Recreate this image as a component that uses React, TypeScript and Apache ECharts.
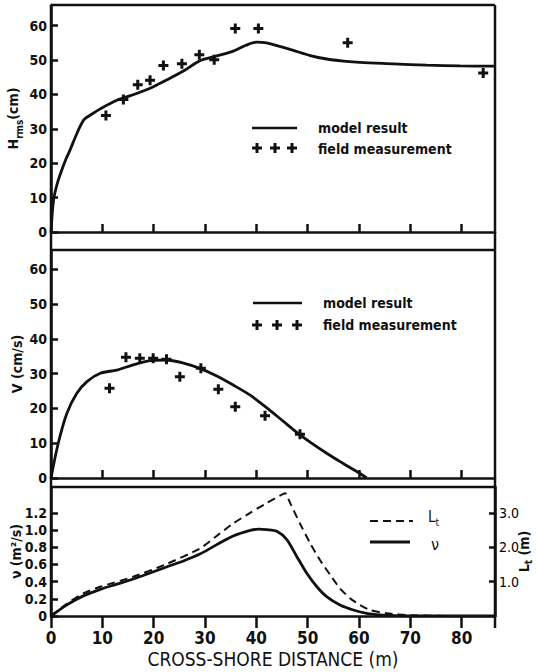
import React, { useEffect, useRef } from "react";
import * as echarts from "echarts";

// ---- Data ----
const xTicks = [0, 10, 20, 30, 40, 50, 60, 70, 80];
const hTicks = [0, 10, 20, 30, 40, 50, 60];
const vTicks = [0, 10, 20, 30, 40, 50, 60];
const nuTicks = [0, 0.2, 0.4, 0.6, 0.8, 1.0, 1.2];
const ltTicks = [1, 2, 3];

const hrmsModelX = [0, 0.5, 1.2, 2.1, 3, 3.7, 5, 6.4, 8, 9.6, 12.8, 16, 19.3, 22.5, 25.8, 29, 32.3, 35.5, 38, 40, 42, 44, 47.2, 50.5, 53.7, 57, 60.2, 66.7, 73.2, 79.7, 86.5];
const hrmsModelY = [0, 9.3, 14, 18, 21.5, 23.8, 28.5, 32.6, 34.3, 35.8, 38.3, 39.9, 41.8, 44.2, 46.8, 49.8, 51.2, 52.6, 54.3, 55.2, 55.0, 54.2, 52.8, 51.3, 50.3, 49.7, 49.3, 48.9, 48.5, 48.3, 48.2];
const hrmsFieldX = [10.7, 14.1, 16.9, 19.3, 21.9, 25.5, 28.9, 31.8, 35.9, 40.4, 57.8, 84.2];
const hrmsFieldY = [33.9, 38.5, 42.8, 44.1, 48.4, 48.9, 51.5, 50.1, 59.2, 59.2, 55.0, 46.2];

const vModelX = [0, 1.4, 3.1, 5, 7, 9.6, 12.8, 16, 19.3, 22.5, 25.8, 29, 32.3, 35.5, 38.8, 42, 45, 48.5, 53.7, 57, 60.2, 61.5];
const vModelY = [0, 9.9, 18.6, 24.3, 27.7, 30.1, 31.0, 32.5, 33.7, 33.9, 33.0, 31.5, 29.3, 26.7, 23.8, 20.2, 16.6, 12.4, 7.1, 4.1, 1.3, 0];
const vFieldX = [11.4, 14.6, 17.3, 19.9, 22.5, 25.1, 29.2, 32.6, 35.9, 41.7, 48.5];
const vFieldY = [25.8, 34.7, 34.4, 34.4, 34.1, 29.1, 31.5, 25.5, 20.5, 17.9, 12.6];

const nuX = [0, 3.1, 6.3, 9.6, 12.8, 16, 19.3, 22.5, 25.8, 29, 32.3, 35.5, 38.8, 40.4, 42, 44, 45.9, 47.9, 49.8, 51.8, 53.7, 56.3, 58.9, 61.5, 64.1, 67, 72, 80, 86.5];
const nuY = [0, 0.13, 0.234, 0.31, 0.37, 0.43, 0.5, 0.57, 0.64, 0.72, 0.83, 0.93, 0.995, 1.01, 1.005, 0.985, 0.89, 0.69, 0.5, 0.34, 0.225, 0.128, 0.07, 0.03, 0.012, 0.005, 0.002, 0, 0];

const ltX = [0, 3, 6.3, 9.6, 16, 22.5, 29, 32.3, 35.5, 38.8, 42, 44.6, 45.6, 46.6, 48.5, 50.5, 52.4, 54.4, 56.3, 58.3, 60.2, 62.2, 65.4, 70, 80, 86.5];
const ltY = [0, 0.35, 0.66, 0.85, 1.14, 1.51, 1.96, 2.33, 2.69, 3.0, 3.28, 3.5, 3.57, 3.28, 2.69, 2.11, 1.63, 1.19, 0.8, 0.51, 0.32, 0.17, 0.08, 0.02, 0, 0];

const zip = (xs: number[], ys: number[]) => xs.map((x, i) => [x, ys[i]]);

const INK = "#111";
const FONT_B = '"DejaVu Sans Condensed", "DejaVu Sans", sans-serif';
const FONT_N = '"Liberation Sans Narrow", "DejaVu Sans Condensed", sans-serif';
const PLUS = "path://M3.5,0h3v10h-3z M0,3.5h10v3h-10z";

const L = 51, R = 495;

function plusGraphic(cx: number, cy: number) {
  return [
    { type: "rect", shape: { x: cx - 5, y: cy - 1.5, width: 10, height: 3 }, style: { fill: INK } },
    { type: "rect", shape: { x: cx - 1.5, y: cy - 5, width: 3, height: 10 }, style: { fill: INK } },
  ];
}
function hline(x1: number, x2: number, y: number, w = 2.5, dash?: number[]) {
  return { type: "line", shape: { x1, y1: y, x2, y2: y }, style: { stroke: INK, lineWidth: w, lineDash: dash } };
}
function vline(x: number, y1: number, y2: number) {
  return { type: "line", shape: { x1: x, y1, x2: x, y2 }, style: { stroke: INK, lineWidth: 2.5 } };
}
function txt(x: number, y: number, text: string, extra: any = {}) {
  return {
    type: "text",
    x,
    y,
    style: { text, fill: INK, font: `bold 14px ${FONT_B}`, verticalAlign: "middle", align: "left", ...extra },
  };
}

const axisLineStyle = { show: true, lineStyle: { color: INK, width: 2.5 } };

function xAxisBase(grid: number) {
  return {
    type: "value",
    gridIndex: grid,
    min: 0,
    max: 86.5,
    axisLine: { ...axisLineStyle, onZero: false },
    splitLine: { show: false },
    axisTick: { show: true, inside: true, length: 8, lineStyle: { color: INK, width: 2.5 }, customValues: xTicks.slice(1) },
    axisLabel: { show: false },
  };
}
function yAxisLeft(grid: number, max: number, ticks: number[], name: any, rich: any, gap: number, fmt?: (v: number) => string) {
  return {
    type: "value",
    gridIndex: grid,
    min: 0,
    max,
    axisLine: { ...axisLineStyle, onZero: false },
    splitLine: { show: false },
    axisTick: { show: true, inside: true, length: 7, lineStyle: { color: INK, width: 2.5 }, customValues: ticks },
    axisLabel: {
      customValues: ticks,
      margin: 4,
      color: INK,
      fontFamily: FONT_B,
      fontWeight: "bold",
      fontSize: 14,
      formatter: fmt || ((v: number) => String(v)),
    },
    name,
    nameLocation: "middle",
    nameRotate: 90,
    nameGap: gap,
    nameMoveOverlap: false,
    nameTextStyle: { color: INK, fontFamily: FONT_B, fontWeight: "bold", fontSize: 14, rich },
  };
}

export default function App() {
  const ref = useRef<HTMLDivElement>(null);
  useEffect(() => {
    document.body.style.margin = "0";
    if (!ref.current) return;
    const chart = echarts.init(ref.current, null, { renderer: "svg" });
    const richMain = { color: INK, fontFamily: FONT_B, fontWeight: "bold", fontSize: 14, lineHeight: 16, verticalAlign: "top" };
    const richSub = { color: INK, fontFamily: FONT_B, fontWeight: "bold", fontSize: 10, lineHeight: 26, verticalAlign: "middle" };
    const richSubR = { ...richSub, lineHeight: 22 };

    const option: any = {
      animation: false,
      backgroundColor: "#fff",
      grid: [
        { left: L, top: 5, width: R - L, height: 227, outerBoundsMode: "none", containLabel: false },
        { left: L, top: 250, width: R - L, height: 228, outerBoundsMode: "none", containLabel: false },
        { left: L, top: 487, width: R - L, height: 129, outerBoundsMode: "none", containLabel: false },
      ],
      xAxis: [
        xAxisBase(0),
        xAxisBase(1),
        {
          ...xAxisBase(2),
          axisTick: { show: true, inside: false, length: 12, lineStyle: { color: INK, width: 2.5 }, customValues: xTicks },
          axisLabel: {
            show: true,
            customValues: xTicks,
            margin: 13,
            color: INK,
            fontFamily: FONT_N,
            fontWeight: "bold",
            fontSize: 17,
          },
          name: "CROSS-SHORE DISTANCE (m)",
          nameLocation: "middle",
          nameGap: 33,
          nameMoveOverlap: false,
          nameTextStyle: { color: INK, fontFamily: FONT_N, fontSize: 19 },
        },
      ],
      yAxis: [
        yAxisLeft(0, 66, hTicks, "{a|H}{s|rms}{a|(cm)}", { a: richMain, s: richSub }, 19),
        yAxisLeft(1, 65.5, vTicks, "V (cm/s)", undefined, 27),
        yAxisLeft(2, 1.5, nuTicks, "ν (m²/s)", undefined, 28, (v: number) => (v === 0 ? "0" : v.toFixed(1))),
        {
          type: "value",
          gridIndex: 2,
          position: "right",
          min: 0,
          max: 3.75,
          axisLine: { ...axisLineStyle, onZero: false },
          splitLine: { show: false },
          axisTick: { show: true, inside: true, length: 6, lineStyle: { color: INK, width: 2.5 }, customValues: ltTicks },
          axisLabel: {
            customValues: ltTicks,
            margin: 4,
            color: "#000",
            fontFamily: FONT_B,
            fontSize: 14,
            formatter: (v: number) => v.toFixed(1),
          },
          name: "{a|L}{s|t}{a| (m)}",
          nameLocation: "middle",
          nameRotate: 90,
          nameGap: 22,
          nameMoveOverlap: false,
          nameTextStyle: { color: INK, rich: { a: richMain, s: richSubR } },
        },
      ],
      series: [
        {
          name: "model result",
          type: "line",
          xAxisIndex: 0,
          yAxisIndex: 0,
          data: zip(hrmsModelX, hrmsModelY),
          smooth: 0.3,
          symbol: "none",
          lineStyle: { color: INK, width: 2.8 },
        },
        {
          name: "field measurement",
          type: "scatter",
          xAxisIndex: 0,
          yAxisIndex: 0,
          data: zip(hrmsFieldX, hrmsFieldY),
          symbol: PLUS,
          symbolSize: 10,
          itemStyle: { color: INK, opacity: 1 },
        },
        {
          name: "model result",
          type: "line",
          xAxisIndex: 1,
          yAxisIndex: 1,
          data: zip(vModelX, vModelY),
          smooth: 0.3,
          symbol: "none",
          lineStyle: { color: INK, width: 2.8 },
        },
        {
          name: "field measurement",
          type: "scatter",
          xAxisIndex: 1,
          yAxisIndex: 1,
          data: zip(vFieldX, vFieldY),
          symbol: PLUS,
          symbolSize: 10,
          itemStyle: { color: INK, opacity: 1 },
        },
        {
          name: "ν",
          type: "line",
          xAxisIndex: 2,
          yAxisIndex: 2,
          data: zip(nuX, nuY),
          smooth: 0.3,
          symbol: "none",
          lineStyle: { color: INK, width: 2.8 },
        },
        {
          name: "Lt",
          type: "line",
          xAxisIndex: 2,
          yAxisIndex: 3,
          data: zip(ltX, ltY),
          smooth: 0.2,
          symbol: "none",
          lineStyle: { color: INK, width: 2, type: [8, 5] },
        },
      ],
      graphic: [
        // frame
        hline(L, R, 5),
        hline(L, R, 250),
        hline(L, R, 487),
        vline(L, 5, 616),
        vline(R, 5, 628),
        // legend panel 1
        hline(252, 297, 128, 2.5),
        txt(318, 128, "model result"),
        ...plusGraphic(257, 148),
        ...plusGraphic(275, 148),
        ...plusGraphic(292, 148),
        txt(318, 149, "field measurement"),
        // legend panel 2
        hline(253, 302, 303, 2.5),
        txt(323, 303, "model result"),
        ...plusGraphic(257, 325),
        ...plusGraphic(277, 325),
        ...plusGraphic(297, 325),
        txt(323, 325, "field measurement"),
        // legend panel 3
        hline(370, 413, 521, 2, [8, 5]),
        {
          type: "text",
          x: 428,
          y: 522,
          style: {
            text: "{a|L}{s|t}",
            verticalAlign: "middle",
            align: "left",
            rich: {
              a: { fill: INK, font: `15px ${FONT_B}`, lineHeight: 16, verticalAlign: "top" },
              s: { fill: INK, font: `10px ${FONT_B}`, lineHeight: 26, verticalAlign: "middle" },
            },
          },
        },
        hline(370, 410, 542, 2.8),
        txt(431, 544, "ν", { font: `16px ${FONT_B}` }),
      ],
    };
    chart.setOption(option);
    return () => chart.dispose();
  }, []);
  return <div ref={ref} style={{ width: 536, height: 672 }} />;
}
